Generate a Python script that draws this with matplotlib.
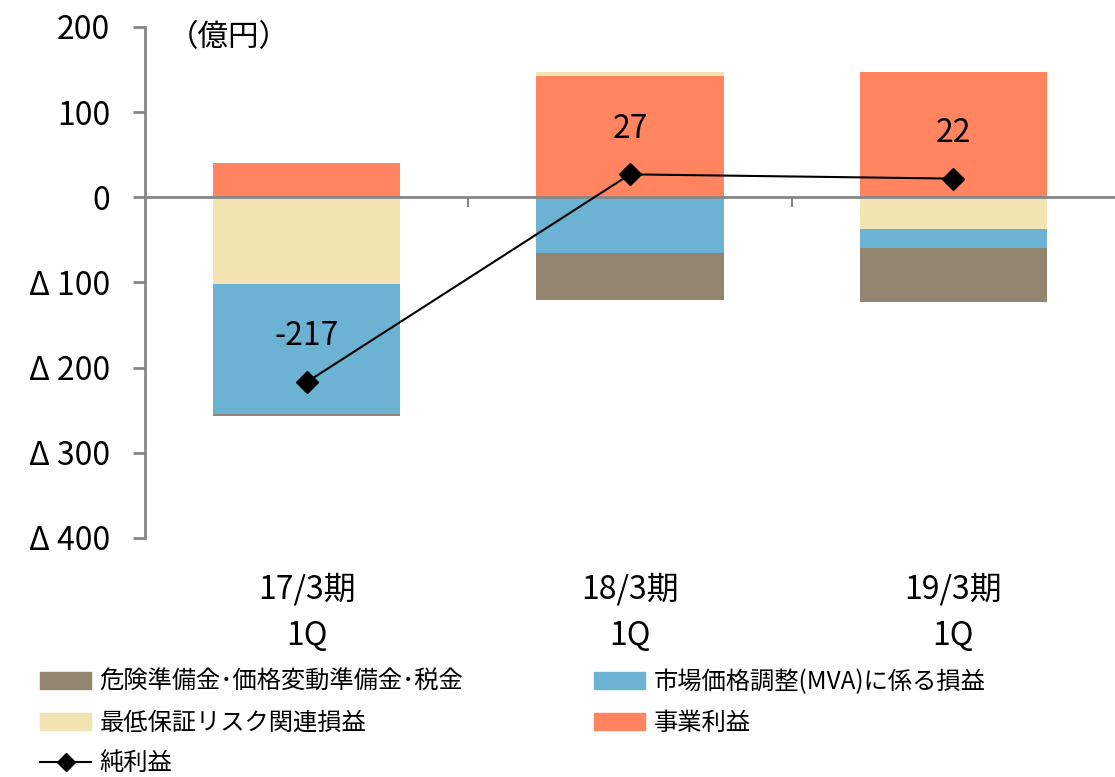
import matplotlib
matplotlib.use('Agg')
import matplotlib.pyplot as plt
import matplotlib.patches as mpatches
import matplotlib.lines as mlines
import numpy as np

plt.rcParams['font.family'] = ['Noto Sans CJK JP', 'DejaVu Sans']

#
# Data
#
categories = ['17/3期', '18/3期', '19/3期']
sub_labels = ['1Q', '1Q', '1Q']
jigyo = [40, 142, 147]          # 事業利益
saitei = [-102, 5, -37]         # 最低保証リスク関連損益
mva = [-152, -65, -22]          # 市場価格調整(MVA)に係る損益
kiken = [-3, -55, -64]          # 危険準備金・価格変動準備金・税金
net = [-217, 27, 22]            # 純利益
yticks = [200, 100, 0, -100, -200, -300, -400]
ytick_labels = ['200', '100', '0', 'Δ 100', 'Δ 200', 'Δ 300', 'Δ 400']

c_kiken = '#938570'
c_mva = '#6BB2D3'
c_saitei = '#F2E3B3'
c_jigyo = '#FF845F'

#
# Graph
#
fig = plt.figure(figsize=(11.15, 7.77), dpi=100)
ax = fig.add_axes([145 / 1115, 1 - 538 / 777, 1 - 145 / 1115, (538 - 27) / 777])
px = 600 / 511  # data units per pixel on y

x = np.arange(len(categories))
width = 0.58
pos_base = np.zeros(len(x))
neg_base = np.zeros(len(x))
for vals, col in [(jigyo, c_jigyo), (saitei, c_saitei), (mva, c_mva), (kiken, c_kiken)]:
    vals = np.array(vals, dtype=float)
    bottoms = np.where(vals >= 0, pos_base, neg_base)
    ax.bar(x, vals, width, bottom=bottoms, color=col, zorder=1)
    pos_base = pos_base + np.where(vals >= 0, vals, 0)
    neg_base = neg_base + np.where(vals < 0, vals, 0)

ax.plot(x, net, color='black', lw=1.5, marker='D', markersize=11, zorder=4)
for xi, v in zip(x, net):
    ax.annotate(str(v), (xi, v), xytext=(0, 33), textcoords='offset points',
                ha='center', va='center', fontsize=23)

ax.set_xlim(-0.5, 2.5)
ax.set_ylim(-400, 200)
ax.set_yticks(yticks)
ax.set_yticklabels(ytick_labels)

for s in ['top', 'right']:
    ax.spines[s].set_visible(False)
ax.spines['left'].set_color('#868686')
ax.spines['left'].set_linewidth(2)
ax.spines['bottom'].set_position(('data', 0))
ax.spines['bottom'].set_color('#868686')
ax.spines['bottom'].set_linewidth(2)
ax.spines['bottom'].set_zorder(3)

ax.tick_params(axis='y', length=9, width=2, color='#868686', pad=16, labelsize=23)
ax.set_xticks([0.5, 1.5])
ax.set_xticklabels([])
ax.tick_params(axis='x', length=7, width=1.5, color='#868686')

for xi, c, s in zip(x, categories, sub_labels):
    ax.text(xi, -400 - 51 * px, c, ha='center', va='center', fontsize=23, clip_on=False)
    ax.text(xi, -400 - 98 * px, s, ha='center', va='center', fontsize=23, clip_on=False)

fig.text(168 / 1115, 1 - 38 / 777, '（億円）', ha='left', va='center', fontsize=22)

# legend: two columns placed separately
h_kiken = mpatches.Patch(color=c_kiken)
h_saitei = mpatches.Patch(color=c_saitei)
h_net = mlines.Line2D([], [], color='black', lw=1.5, marker='D', markersize=9)
h_mva = mpatches.Patch(color=c_mva)
h_jigyo = mpatches.Patch(color=c_jigyo)

leg_kw = dict(loc='upper left', frameon=False, fontsize=17.5, borderpad=0, borderaxespad=0,
              handlelength=2.1, handletextpad=0.35, labelspacing=0.6)
fig.legend([h_kiken, h_saitei, h_net],
           ['危険準備金･価格変動準備金･税金', '最低保証リスク関連損益', '純利益'],
           bbox_to_anchor=(40 / 1115, 1 - 669 / 777), **leg_kw)
fig.legend([h_mva, h_jigyo],
           ['市場価格調整(MVA)に係る損益', '事業利益'],
           bbox_to_anchor=(594 / 1115, 1 - 669 / 777), **leg_kw)

fig.savefig('out.png', dpi=100)
